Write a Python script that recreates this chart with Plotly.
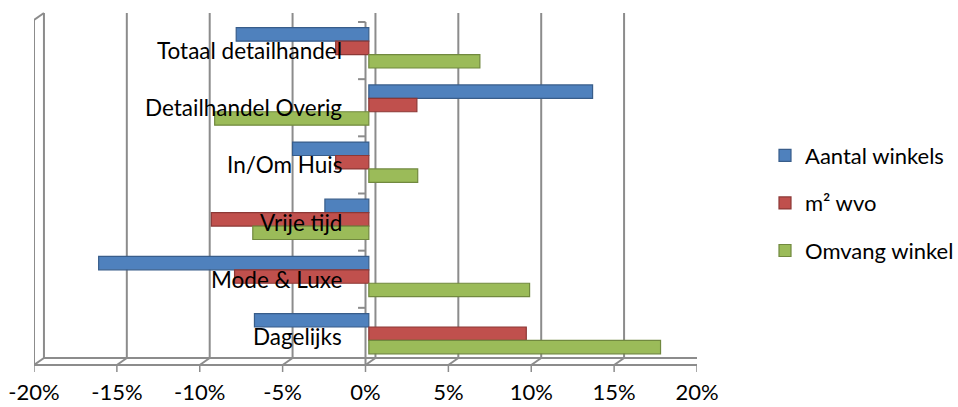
import plotly.graph_objects as go

categories = ["Dagelijks", "Mode & Luxe", "Vrije tijd", "In/Om Huis",
              "Detailhandel Overig", "Totaal detailhandel"]
aantal_winkels = [-6.9, -16.3, -2.65, -4.6, 13.5, -8.0]
m2_wvo = [9.5, -8.1, -9.5, -2.0, 2.9, -2.0]
omvang_winkel = [17.6, 9.7, -7.0, 2.95, -9.3, 6.7]
series_names = ["Aantal winkels", "m² wvo", "Omvang winkel"]
tick_vals = [-20, -15, -10, -5, 0, 5, 10, 15, 20]
tick_text = ["-20%", "-15%", "-10%", "-5%", "0%", "5%", "10%", "15%", "20%"]

colors = ["#4F81BD", "#C0504D", "#9BBB59"]
edge = ["#385D8A", "#8C3836", "#71893F"]
offsets = [0.165, -0.07, -0.305]
FONT = "Lato"

W, H = 958, 407
L, R, T, B = 34, 261, 22, 42
PH = H - T - B
DX = 0.6          # depth offset in % units (~10 px)
DY = 7 / PH       # depth offset in paper units

fig = go.Figure()
for name, vals, c, e, off in zip(series_names, [aantal_winkels, m2_wvo, omvang_winkel],
                                 colors, edge, offsets):
    fig.add_trace(go.Bar(
        y=list(range(len(categories))), x=vals, name=name, orientation="h",
        width=0.235, offset=off, xaxis="x2",
        marker=dict(color=c, line=dict(color=e, width=1.2)),
        legendgroup=name,
    ))

grid = "#8C8C8C"
shapes = []
top_back = 1 + 9 / PH
for v in tick_vals:
    shapes.append(dict(type="line", xref="x", yref="paper", x0=v + DX, x1=v + DX,
                       y0=DY, y1=top_back, line=dict(color=grid, width=2), layer="below"))
    shapes.append(dict(type="line", xref="x", yref="paper", x0=v, x1=v + DX,
                       y0=0, y1=DY, line=dict(color=grid, width=2), layer="below"))
    shapes.append(dict(type="line", xref="x", yref="paper", x0=v, x1=v,
                       y0=0, y1=-7 / PH, line=dict(color=grid, width=1.5), layer="below"))
shapes.append(dict(type="line", xref="x", yref="paper", x0=-20, x1=20, y0=0, y1=0,
                   line=dict(color=grid, width=2), layer="below"))
shapes.append(dict(type="line", xref="x", yref="paper", x0=-20 + DX, x1=20 + DX, y0=DY, y1=DY,
                   line=dict(color=grid, width=2), layer="below"))
shapes.append(dict(type="line", xref="x", yref="paper", x0=-20, x1=-20, y0=0, y1=top_back - DY,
                   line=dict(color=grid, width=2), layer="below"))
shapes.append(dict(type="line", xref="x", yref="paper", x0=-20, x1=-20 + DX, y0=top_back - DY, y1=top_back,
                   line=dict(color=grid, width=2), layer="below"))
shapes.append(dict(type="line", xref="x", yref="paper", x0=0, x1=0, y0=0, y1=1,
                   line=dict(color=grid, width=2), layer="below"))
n = len(categories)
for i in range(n + 1):
    shapes.append(dict(type="line", xref="x", yref="paper", x0=-0.45, x1=0, y0=i / n, y1=i / n,
                       line=dict(color=grid, width=2), layer="below"))

annotations = []
for i, cat in enumerate(categories):
    annotations.append(dict(x=0, y=i, xref="x", yref="y", text=cat, showarrow=False,
                            xanchor="right", yanchor="middle", xshift=-22, yshift=0,
                            font=dict(family=FONT, size=22.5, color="#000000")))

fig.update_layout(
    width=W, height=H, margin=dict(l=L, r=R, t=T, b=B, autoexpand=False),
    paper_bgcolor="white", plot_bgcolor="white",
    barmode="overlay", showlegend=True,
    font=dict(family=FONT, size=22, color="#000000"),
    xaxis=dict(range=[-20, 20], tickvals=tick_vals, ticktext=tick_text, automargin=False,
               showgrid=False, zeroline=False, showline=False, ticks="",
               ticklabelstandoff=12, tickfont=dict(family=FONT, size=22, color="#000000")),
    xaxis2=dict(range=[-20.2, 19.8], overlaying="x", showgrid=False, zeroline=False,
                showticklabels=False, showline=False, ticks="", automargin=False),
    yaxis=dict(range=[-0.5, n - 0.5], showgrid=False, zeroline=False, automargin=False,
               showticklabels=False, showline=False, ticks=""),
    legend=dict(x=(765 - L) / (W - L - R), y=1 - (203 - T) / PH, xanchor="left", yanchor="middle",
                xref="paper", yref="paper",
                font=dict(family=FONT, size=22, color="#000000"),
                tracegroupgap=16, bgcolor="rgba(0,0,0,0)"),
    shapes=shapes, annotations=annotations,
)

fig.write_html("out.html", config={"displayModeBar": False},
               post_script="document.body.style.margin='0';document.body.style.overflow='hidden';")
